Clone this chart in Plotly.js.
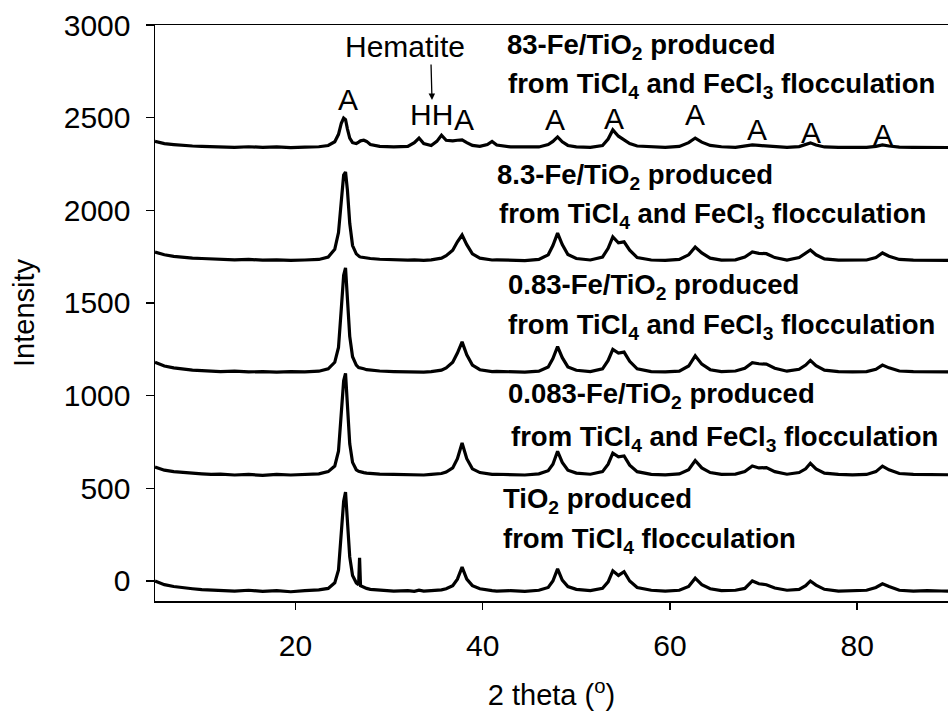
<!DOCTYPE html>
<html>
<head>
<meta charset="utf-8">
<script src="https://cdn.plot.ly/plotly-3.0.1.min.js"></script>
<style>html,body{margin:0;padding:0;background:#fff;}#chart{width:948px;height:720px;}</style>
</head>
<body>
<div id="chart"></div>
<script>
// 2 theta (degrees)
const twoTheta = [5,5.5,6,7,8,9,10,11,12,13.5,15,16.5,18,19.5,21,22.5,23.5,24.2,24.6,24.9,25.15,25.35,25.55,25.8,26.1,26.5,26.75,26.85,26.95,27.3,27.6,28,29,30.5,32,32.7,33.2,33.7,34.5,35.1,35.6,36.1,36.8,37.3,37.8,38.3,38.9,39.7,40.5,41,41.5,43,44.5,46,47,47.5,48,48.5,49.1,50,51.5,52.8,53.4,53.9,54.5,55.1,55.7,56.5,58,59.5,61,62,62.7,63.4,64.3,65.5,67,68,68.8,69.5,70.3,71.2,72.5,73.8,74.5,75,75.6,76.5,78,79.5,81,82,82.7,83.4,84.5,86,87.5,89,90];

// Intensities (offset patterns as plotted)
const intTiO2 = [0,-10,-20,-30,-38,-42,-47,-50,-52,-55,-50,-56,-52,-58,-52,-48,-40,-10,60,250,430,480,330,130,30,-10,-20,125,-25,-35,-40,-45,-50,-55,-52,-56,-50,-55,-52,-50,-48,-42,-25,10,75,10,-25,-42,-50,-52,-55,-52,-56,-50,-35,0,65,5,-30,-45,-52,-40,-5,55,30,50,0,-35,-50,-55,-50,-30,15,-20,-42,-52,-50,-40,0,-15,-20,-38,-50,-45,-25,0,-22,-45,-55,-52,-50,-35,-15,-30,-50,-55,-52,-54,-55];
const intFe0_083 = [615,605,598,590,585,580,578,575,577,572,575,570,575,572,575,578,590,620,700,900,1080,1120,960,740,640,600,592,590,588,585,582,580,577,575,573,575,574,572,575,576,580,588,610,660,745,660,605,585,578,575,576,574,572,578,595,630,700,640,598,582,576,590,630,690,670,675,625,590,575,573,578,600,650,610,585,575,577,590,620,610,612,590,576,585,605,635,605,582,575,573,575,590,620,600,580,575,574,575,573];
const intFe0_83 = [1180,1170,1160,1150,1142,1138,1135,1133,1130,1132,1128,1130,1127,1130,1128,1132,1145,1180,1260,1470,1650,1690,1540,1320,1210,1165,1152,1150,1148,1145,1140,1137,1133,1130,1128,1130,1129,1127,1130,1133,1138,1150,1180,1230,1290,1220,1165,1140,1132,1130,1131,1128,1127,1132,1155,1200,1265,1205,1155,1137,1130,1145,1190,1250,1230,1235,1185,1145,1130,1128,1132,1160,1215,1170,1140,1130,1133,1148,1178,1172,1170,1148,1132,1142,1165,1190,1162,1138,1130,1128,1130,1142,1165,1150,1133,1130,1128,1130,1128];
const intFe8_3 = [1775,1768,1760,1752,1746,1742,1740,1737,1735,1733,1735,1731,1733,1730,1732,1735,1748,1790,1880,2060,2190,2207,2110,1930,1810,1765,1752,1750,1748,1745,1742,1740,1736,1733,1731,1733,1732,1730,1733,1736,1742,1755,1785,1830,1867,1815,1765,1742,1735,1732,1733,1730,1729,1735,1760,1810,1877,1815,1762,1740,1732,1748,1795,1857,1825,1830,1785,1745,1732,1730,1735,1760,1802,1770,1742,1731,1733,1748,1775,1768,1766,1745,1732,1745,1768,1786,1760,1738,1731,1730,1732,1745,1770,1752,1735,1731,1730,1732,1730];
const intFe83 = [2372,2365,2360,2355,2350,2347,2345,2343,2342,2340,2343,2340,2342,2338,2341,2343,2350,2370,2410,2470,2498,2490,2440,2390,2365,2360,2368,2372,2375,2378,2372,2355,2345,2342,2345,2365,2390,2360,2350,2372,2405,2378,2375,2378,2380,2365,2350,2345,2355,2372,2352,2342,2340,2342,2355,2372,2396,2370,2350,2342,2340,2350,2385,2434,2400,2380,2360,2347,2342,2340,2345,2365,2390,2368,2350,2343,2340,2345,2353,2350,2348,2342,2340,2344,2355,2364,2352,2342,2340,2339,2340,2345,2353,2347,2341,2340,2338,2340,2339];

const seriesNames = ["TiO2", "0.083-Fe/TiO2", "0.83-Fe/TiO2", "8.3-Fe/TiO2", "83-Fe/TiO2"];
const seriesData = [intTiO2, intFe0_083, intFe0_83, intFe8_3, intFe83];

// Text labels
const sampleLabels = [
  "83-Fe/TiO<sub>2</sub> produced",
  "from TiCl<sub>4</sub> and FeCl<sub>3</sub> flocculation",
  "8.3-Fe/TiO<sub>2</sub> produced",
  "from TiCl<sub>4</sub> and FeCl<sub>3</sub> flocculation",
  "0.83-Fe/TiO<sub>2</sub> produced",
  "from TiCl<sub>4</sub> and FeCl<sub>3</sub> flocculation",
  "0.083-Fe/TiO<sub>2</sub> produced",
  "from TiCl<sub>4</sub> and FeCl<sub>3</sub> flocculation",
  "TiO<sub>2</sub> produced",
  "from TiCl<sub>4</sub> flocculation"
];
const peakLabels = ["A", "HH", "A", "A", "A", "A", "A", "A", "A"];
const yTickVals = [0, 500, 1000, 1500, 2000, 2500, 3000];
const xTickVals = [20, 40, 60, 80];

// pixel -> data helpers for annotation placement
const X0 = 5, X1 = 89.7, Y0 = -108, Y1 = 3000;
const L = 155, R = 948, T = 25, B = 601;
const px2x = p => X0 + (p - L) * (X1 - X0) / (R - L);
const py2y = p => Y1 - (p - T) * (Y1 - Y0) / (B - T);

const FONT = "Liberation Sans, Arial, Helvetica, sans-serif";

const traces = seriesData.map((ys, i) => ({
  type: "scatter", mode: "lines", name: seriesNames[i],
  x: twoTheta, y: ys,
  line: {color: "#000", width: 3.2},
  hoverinfo: "skip"
}));

const labelPos = [[505,46],[506,85],[495,176],[497,215],[506,286],[506,326],[506,395],[509,438],[501,500],[501,540]];
const annotations = [];
sampleLabels.forEach((t, i) => {
  annotations.push({
    text: t, xref: "x", yref: "y", x: px2x(labelPos[i][0]), y: py2y(labelPos[i][1]),
    xanchor: "left", yanchor: "middle", showarrow: false,
    font: {family: FONT, size: 27.5, color: "#000", weight: "bold"}
  });
});
const peakPos = [[348,99],[431,114],[464,119],[555,119],[614,118],[695,114],[757,129],[811,132],[883,134]];
peakLabels.forEach((t, i) => {
  annotations.push({
    text: t, xref: "x", yref: "y", x: px2x(peakPos[i][0]), y: py2y(peakPos[i][1]),
    xanchor: "center", yanchor: "middle", showarrow: false,
    font: {family: FONT, size: 30, color: "#000"}
  });
});
annotations.push({
  text: "Hematite", xref: "x", yref: "y", x: px2x(405), y: py2y(46),
  xanchor: "center", yanchor: "middle", showarrow: false,
  font: {family: FONT, size: 30, color: "#000"}
});
annotations.push({
  text: "", xref: "x", yref: "y", x: px2x(432), y: py2y(100),
  ax: -1, ay: -37, showarrow: true, arrowhead: 2, arrowsize: 1, arrowwidth: 1.3, arrowcolor: "#000"
});

const layout = {
  width: 948, height: 720,
  margin: {l: L, r: 948 - R, t: T, b: 720 - B, pad: 0},
  paper_bgcolor: "#fff", plot_bgcolor: "#fff",
  showlegend: false,
  font: {family: FONT, color: "#000"},
  xaxis: {
    range: [X0, X1], tickvals: xTickVals, ticktext: xTickVals.map(String),
    ticks: "outside", ticklen: 7, tickwidth: 1.5, tickcolor: "#000",
    showline: true, linecolor: "#000", linewidth: 1.5, mirror: true,
    showgrid: false, zeroline: false, ticklabelstandoff: 10,
    tickfont: {family: FONT, size: 30, color: "#000"},
    title: {text: "2 theta (<sup>o</sup>)", font: {family: FONT, size: 29, color: "#000"}, standoff: 24}
  },
  yaxis: {
    range: [Y0, Y1], tickvals: yTickVals, ticktext: yTickVals.map(String),
    ticks: "outside", ticklen: 8, tickwidth: 1.5, tickcolor: "#000",
    showline: true, linecolor: "#000", linewidth: 1.5, mirror: false,
    showgrid: false, zeroline: false, ticklabelstandoff: 9,
    tickfont: {family: FONT, size: 30, color: "#000"},
    title: {text: "Intensity", font: {family: FONT, size: 29, color: "#000"}, standoff: 20}
  },
  annotations: annotations
};

Plotly.newPlot("chart", traces, layout, {displayModeBar: false, staticPlot: true});
</script>
</body>
</html>
